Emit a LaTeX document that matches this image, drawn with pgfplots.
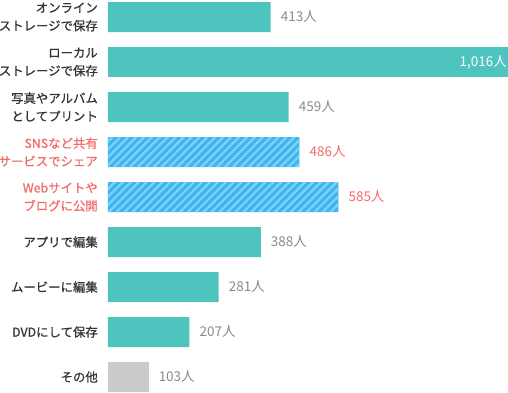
\documentclass[border=0pt]{standalone}
\usepackage{pgfplots}
\pgfplotsset{compat=1.18}
\usepackage{fontspec}
\setmainfont{Noto Sans CJK JP}
\newfontfamily\labfont[FakeBold=0.7]{Noto Sans CJK JP}
\usetikzlibrary{patterns.meta}
\definecolor{teal1}{HTML}{4EC4BE}
\definecolor{hblue}{HTML}{3EB5EE}
\definecolor{hlight}{HTML}{80D2F6}
\definecolor{grey1}{HTML}{C9CCC9}
\definecolor{salmon}{HTML}{F26B6B}
\definecolor{lab}{HTML}{333333}
\definecolor{val}{HTML}{8A8A8A}
\begin{document}
\begin{tikzpicture}
\begin{axis}[
  at={(0,0)}, anchor=south west,
  scale only axis, width=400pt, height=392pt,
  xbar, bar width=30pt, bar shift=0pt,
  xmin=0, xmax=1016,
  ymin=-0.3778, ymax=8.3333, y dir=reverse,
  axis line style={draw=none}, clip=false,
  xtick=\empty,
  ytick={0,...,8},
  major tick length=0pt,
  yticklabels={
    {オンライン\\ストレージで保存},
    {ローカル\\ストレージで保存},
    {写真やアルバム\\としてプリント},
    {\color{salmon}SNSなど共有\\\color{salmon}サービスでシェア},
    {\color{salmon}Webサイトや\\\color{salmon}ブログに公開},
    {アプリで編集},
    {ムービーに編集},
    {DVDにして保存},
    {その他}},
  yticklabel style={anchor=east, inner sep=0pt, xshift=-10pt, align=right,
    font=\labfont\fontsize{12.4}{18}\selectfont, text=lab},
  nodes near coords, point meta=explicit symbolic,
  every node near coord/.append style={anchor=west, inner sep=0pt, xshift=10pt,
    font=\fontsize{13.5}{15}\selectfont},
]
\addplot[fill=teal1, draw=none, every node near coord/.append style={text=val}]
  coordinates {(413,0) [413人] (459,2) [459人] (388,5) [388人] (281,6) [281人] (207,7) [207人]};
\addplot[fill=teal1, draw=none, every node near coord/.append style={anchor=east, xshift=-11pt, text=white}]
  coordinates {(1016,1) [1,016人]};
\addplot[fill=hblue, draw=none,
  postaction={pattern={Lines[angle=45,distance=5.6pt,line width=2.2pt]}, pattern color=hlight},
  every node near coord/.append style={text=salmon}]
  coordinates {(486,3) [486人] (585,4) [585人]};
\addplot[fill=grey1, draw=none, every node near coord/.append style={text=val}]
  coordinates {(103,8) [103人]};
\end{axis}
\pgfresetboundingbox
\path[use as bounding box] (-108pt,0) rectangle (400pt,392pt);
\end{tikzpicture}
\end{document}
